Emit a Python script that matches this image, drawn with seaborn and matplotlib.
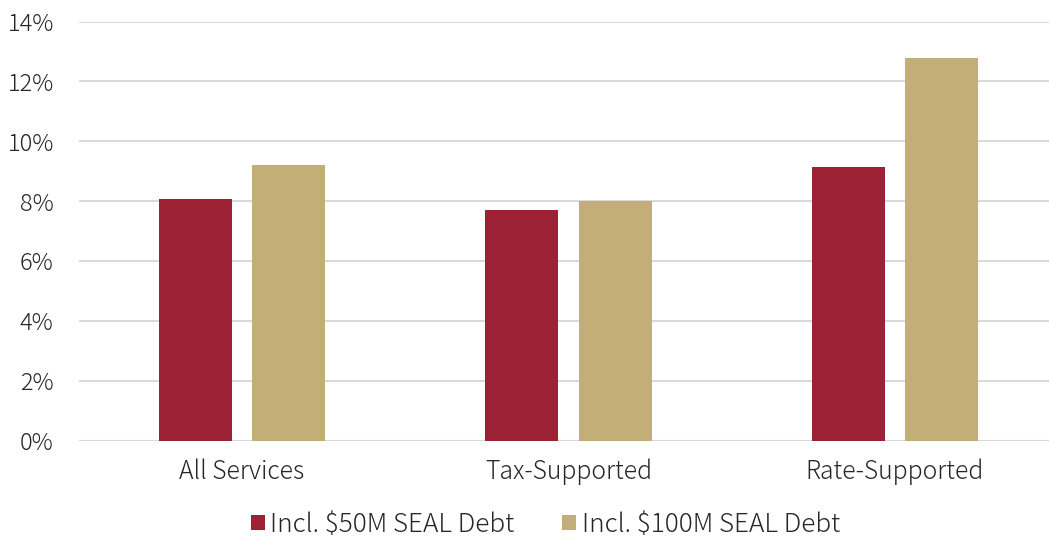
import matplotlib
matplotlib.use("Agg")
import matplotlib.pyplot as plt
import seaborn as sns
import pandas as pd
from matplotlib.patches import Patch

categories = ["All Services", "Tax-Supported", "Rate-Supported"]
series_names = ["Incl. $50M SEAL Debt", "Incl. $100M SEAL Debt"]
values_50m = [8.06, 7.69, 9.15]
values_100m = [9.20, 8.00, 12.78]
y_ticks = [0, 2, 4, 6, 8, 10, 12, 14]
y_tick_labels = ["0%", "2%", "4%", "6%", "8%", "10%", "12%", "14%"]
colors = ["#9C2135", "#C4AE77"]

sns.set_theme(style="white")
plt.rcParams["font.family"] = ["Noto Sans CJK JP", "DejaVu Sans"]
plt.rcParams["font.weight"] = "light"
text_color = "#262626"

df = pd.DataFrame({
    "category": categories * 2,
    "series": [series_names[0]] * 3 + [series_names[1]] * 3,
    "value": values_50m + values_100m,
})

W, H = 1049, 537
fig = plt.figure(figsize=(W / 100, H / 100), dpi=100)
left, right = 78.75, 1058.25
top, bottom = 21.5, 440.6
ax = fig.add_axes([left / W, 1 - bottom / H, (right - left) / W, (bottom - top) / H])

sns.barplot(data=df, x="category", y="value", hue="series", order=categories,
            hue_order=series_names, palette=colors, width=0.57, gap=0.215,
            ax=ax, legend=False, saturation=1, edgecolor="none", zorder=3)

ax.set_ylim(0, 14)
ax.set_xlim(-0.5, 2.5)
ax.set_yticks(y_ticks)
ax.set_yticklabels(y_tick_labels)
for y in y_ticks:
    ax.axhline(y, color="#D9D9D9", lw=2.2 if y == 0 else 1.4, zorder=1)
ax.grid(False)
for s in ax.spines.values():
    s.set_visible(False)
ax.set_xlabel("")
ax.set_ylabel("")
ax.tick_params(axis="y", length=0, pad=18, labelsize=17, labelcolor=text_color)
ax.tick_params(axis="x", length=0, pad=13, labelsize=17.8, labelcolor=text_color)

handles = [Patch(facecolor=c, edgecolor="none") for c in colors]
labels = [s.replace("$", r"\$") for s in series_names]
fig.legend(handles, labels, loc="center", bbox_to_anchor=(545.5 / W, 1 - 524.5 / H),
           ncol=2, frameon=False, fontsize=18.8, handlelength=0.52, handleheight=0.52,
           handletextpad=0.22, columnspacing=1.82, borderpad=0.0, labelcolor=text_color)

fig.savefig("out.png", dpi=100)
